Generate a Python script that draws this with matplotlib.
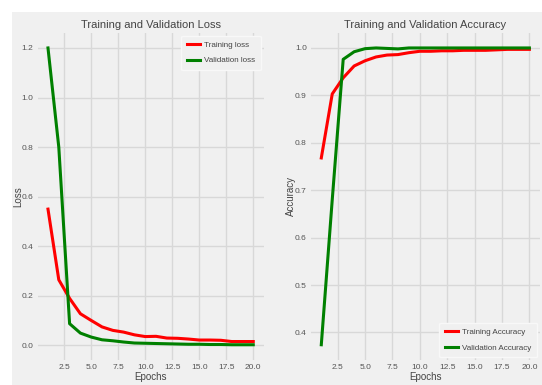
import matplotlib
matplotlib.use("Agg")
import matplotlib.pyplot as plt
from matplotlib.patches import Rectangle

epochs = list(range(1, 21))
train_loss = [0.55, 0.265, 0.19, 0.128, 0.101, 0.075, 0.061, 0.054, 0.043, 0.036,
              0.037, 0.030, 0.029, 0.026, 0.022, 0.022, 0.021, 0.016, 0.016, 0.016]
val_loss = [1.20, 0.80, 0.088, 0.050, 0.034, 0.023, 0.019, 0.014, 0.010, 0.009,
            0.008, 0.007, 0.006, 0.005, 0.005, 0.004, 0.004, 0.003, 0.003, 0.003]
train_acc = [0.768, 0.903, 0.937, 0.962, 0.973, 0.981, 0.985, 0.986, 0.990, 0.993,
             0.993, 0.994, 0.994, 0.995, 0.995, 0.995, 0.996, 0.997, 0.997, 0.997]
val_acc = [0.374, 0.68, 0.976, 0.992, 0.9985, 1.0, 0.999, 0.998, 1.0, 1.0,
           1.0, 1.0, 1.0, 1.0, 1.0, 1.0, 1.0, 1.0, 1.0, 1.0]
xticks = [2.5, 5.0, 7.5, 10.0, 12.5, 15.0, 17.5, 20.0]

plt.rcParams['font.family'] = ['Liberation Sans', 'DejaVu Sans']

BG = '#f0f0f0'
fig = plt.figure(figsize=(5.42, 3.85), dpi=100, facecolor='white')
fig.patches.append(Rectangle((12/542, 0), 1, 1 - 12/385, transform=fig.transFigure,
                             facecolor=BG, edgecolor='none', zorder=-10))

ax1 = fig.add_axes([0.0696, 0.066, 0.4166, 0.848])
ax2 = fig.add_axes([0.5736, 0.066, 0.4223, 0.848])

def style(ax):
    ax.set_facecolor(BG)
    for s in ax.spines.values():
        s.set_visible(False)
    ax.grid(True, color='#d8d8d8', linewidth=1.0)
    ax.set_axisbelow(True)
    ax.tick_params(length=0, labelsize=6, colors='#555555', pad=3)
    ax.set_xticks(xticks)

TC = '#444444'
leg_kw = dict(fontsize=5.8, facecolor=BG, edgecolor='#f8f8f8', framealpha=1,
              handlelength=1.6, handletextpad=0.6, labelcolor=TC, borderaxespad=0.3,
              labelspacing=1.0, borderpad=0.7)

style(ax1)
ax1.plot(epochs, train_loss, color='red', linewidth=2.2, label='Training loss')
ax1.plot(epochs, val_loss, color='green', linewidth=2.2, label='Validation loss')
ax1.set_yticks([0.0, 0.2, 0.4, 0.6, 0.8, 1.0, 1.2])
ax1.set_title('Training and Validation Loss', fontsize=8, color=TC, pad=3.5)
ax1.set_xlabel('Epochs', fontsize=7, color=TC, labelpad=1)
ax1.set_ylabel('Loss', fontsize=7, color=TC, labelpad=-1)
ax1.legend(loc='upper right', **leg_kw)

style(ax2)
ax2.plot(epochs, train_acc, color='red', linewidth=2.2, label='Training Accuracy')
ax2.plot(epochs, val_acc, color='green', linewidth=2.2, label='Validation Accuracy')
ax2.set_yticks([0.4, 0.5, 0.6, 0.7, 0.8, 0.9, 1.0])
ax2.set_title('Training and Validation Accuracy', fontsize=8, color=TC, pad=3.5)
ax2.set_xlabel('Epochs', fontsize=7, color=TC, labelpad=1)
ax2.set_ylabel('Accuracy', fontsize=7, color=TC, labelpad=-1)
ax2.legend(loc='lower right', **leg_kw)

fig.savefig('out.png', dpi=100, facecolor=fig.get_facecolor())
